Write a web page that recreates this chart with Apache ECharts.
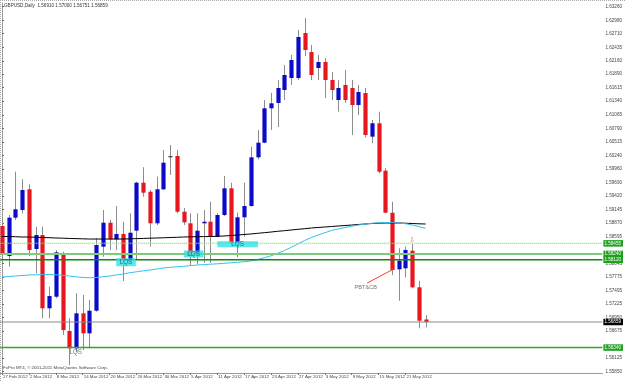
<!DOCTYPE html>
<html><head><meta charset="utf-8">
<script src="https://cdn.jsdelivr.net/npm/echarts@6/dist/echarts.min.js"></script>
<style>html,body{margin:0;padding:0;background:#fff}#c{width:625px;height:381px}</style>
</head><body><div id="c"></div>
<script>
// ---- data (GBPUSD Daily, 27 Feb 2012 .. 24 May 2012) ----
const opens = [1.58807,1.58198,1.58976,1.59132,1.59552,1.58340,1.58624,1.57137,1.57372,1.58233,
1.56676,1.56325,1.57035,1.56629,1.57088,1.58387,1.58874,1.58537,1.58645,1.58117,
1.58712,1.59686,1.59503,1.58862,1.59552,1.60223,1.60228,1.59097,1.58862,1.58265,
1.58862,1.58894,1.58590,1.59030,1.59572,1.58468,1.58984,1.59213,1.60201,1.60498,
1.61196,1.61304,1.61567,1.61811,1.61811,1.62724,1.62339,1.62014,1.62136,1.61770,
1.61364,1.61669,1.61608,1.61263,1.61507,1.60620,1.60892,1.59930,1.59077,1.57928,
1.57949,1.58306,1.57563,1.56910];
const highs = [1.58990,1.59030,1.59909,1.59755,1.59653,1.58793,1.58793,1.57575,1.58320,1.58286,
1.56934,1.57441,1.57407,1.57305,1.58558,1.59132,1.58929,1.59213,1.58894,1.59065,
1.59706,1.59999,1.59538,1.59808,1.60350,1.60451,1.60350,1.59172,1.59065,1.59065,
1.59132,1.59300,1.59065,1.59822,1.59686,1.59077,1.59686,1.60417,1.60756,1.61364,
1.61507,1.61770,1.62075,1.62278,1.62785,1.63029,1.62481,1.62278,1.62217,1.61933,
1.61770,1.61973,1.61770,1.61669,1.61608,1.60959,1.61127,1.59978,1.59300,1.58355,
1.58387,1.58442,1.57697,1.57000];
const lows = [1.58117,1.57981,1.58929,1.59065,1.58198,1.57847,1.56934,1.56934,1.57340,1.56595,
1.55986,1.56250,1.56290,1.56325,1.57068,1.58184,1.58320,1.58320,1.57691,1.58083,
1.58117,1.59402,1.58387,1.58827,1.59538,1.59842,1.59065,1.58827,1.58016,1.58036,
1.58062,1.58062,1.58578,1.59010,1.58442,1.58172,1.58590,1.59199,1.60161,1.60486,
1.60756,1.60816,1.61364,1.61669,1.61770,1.62257,1.61770,1.61770,1.61405,1.61364,
1.61127,1.61304,1.60654,1.61060,1.60607,1.60486,1.59877,1.59065,1.57813,1.57291,
1.57766,1.57543,1.56731,1.56751];
const closes = [1.58219,1.58976,1.59146,1.59538,1.58320,1.58624,1.57137,1.57386,1.58273,1.56696,
1.56325,1.57035,1.56629,1.57088,1.58422,1.58874,1.58537,1.58645,1.58117,1.58671,
1.59686,1.59483,1.58862,1.59552,1.60092,1.60223,1.59097,1.58882,1.58198,1.58712,
1.58894,1.58590,1.59030,1.59572,1.58456,1.58984,1.59213,1.60201,1.60498,1.61196,
1.61297,1.61608,1.61872,1.62176,1.62643,1.62379,1.61872,1.62136,1.61770,1.61567,
1.61608,1.61364,1.61263,1.61527,1.60654,1.60892,1.59909,1.59077,1.57914,1.58103,
1.58320,1.57563,1.56885,1.56859];
const maSlow = [1.58594,1.58594,1.58590,1.58584,1.58584,1.58578,1.58574,1.58570,1.58564,1.58560,
1.58555,1.58551,1.58547,1.58543,1.58543,1.58543,1.58543,1.58543,1.58543,1.58547,
1.58551,1.58555,1.58560,1.58564,1.58568,1.58574,1.58578,1.58584,1.58588,1.58590,
1.58592,1.58594,1.58598,1.58604,1.58614,1.58624,1.58635,1.58645,1.58659,1.58671,
1.58685,1.58700,1.58712,1.58726,1.58740,1.58752,1.58767,1.58777,1.58787,1.58797,
1.58807,1.58817,1.58827,1.58838,1.58848,1.58858,1.58864,1.58868,1.58868,1.58868,
1.58864,1.58858,1.58852,1.58848];
const maFast = [1.57772,1.57782,1.57792,1.57803,1.57813,1.57817,1.57821,1.57823,1.57817,1.57807,
1.57792,1.57776,1.57764,1.57758,1.57762,1.57776,1.57792,1.57813,1.57833,1.57859,
1.57878,1.57898,1.57914,1.57934,1.57955,1.57969,1.57979,1.57991,1.58003,1.58016,
1.58024,1.58032,1.58040,1.58050,1.58060,1.58070,1.58083,1.58097,1.58127,1.58162,
1.58202,1.58253,1.58310,1.58375,1.58442,1.58513,1.58574,1.58624,1.58671,1.58716,
1.58746,1.58777,1.58803,1.58827,1.58848,1.58862,1.58872,1.58878,1.58876,1.58868,
1.58854,1.58827,1.58795,1.58760];
const dateTickIdx = [0,4,8,12,16,20,24,28,32,36,40,44,48,52,56,60];
const dateTickLabels = ["27 Feb 2012","2 Mar 2012","8 Mar 2012","14 Mar 2012","20 Mar 2012","26 Mar 2012",
"30 Mar 2012","5 Apr 2012","11 Apr 2012","17 Apr 2012","23 Apr 2012","27 Apr 2012","3 May 2012",
"9 May 2012","15 May 2012","21 May 2012"];
const priceTicks = [1.63260,1.62980,1.62710,1.62435,1.62160,1.61890,1.61615,1.61340,1.61065,1.60790,
1.60515,1.60240,1.59960,1.59690,1.59420,1.59145,1.58870,1.58595,1.58045,1.57775,1.57495,1.57225,
1.56950,1.56675,1.56125,1.55850];
const levels = [1.58455,1.58240,1.58120,1.56340];
const bidPrice = 1.56859;
const headerText = "GBPUSD,Daily  1.56910 1.57000 1.56751 1.56859";
const footerText = "FxPro MT4, \u00a9 2001-2011 MetaQuotes Software Corp.";
// annotations: [bar index, price, text]
const lqsNotes = [[18.44,1.58072,"LQS"],[28.5,1.58239,"LQS"],[35.04,1.58438,"LQS"],[10.96,1.56240,"LQS"]];
const pbtNote = [54.1,1.57569,"PBT&CB"];
const pbtLink = [[54.3,1.57650],[58.1,1.57924]];
const arrowNote = [61,1.58523,"\u21e9"];

// ---- chart ----
const FONT = 'Liberation Sans';
const X_MIN = -0.25, X_MAX = 89.28;
const chart = echarts.init(document.getElementById('c'));
const candleData = opens.map((o,i)=>[i,o,closes[i],lows[i],highs[i]]);
const levelStyles = [
  {color:'#8fd88f',width:1.5,type:[1,1],bg:'#1fa11f',fg:'#fff'},
  {color:'#7ccc7c',width:2,type:'solid',bg:'#1fa11f',fg:'#fff'},
  {color:'#0a8a0a',width:1.5,type:'solid',bg:'#1fa11f',fg:'#fff'},
  {color:'#2fa52f',width:1.5,type:'solid',bg:'#1fa11f',fg:'#fff'},
  {color:'#8a8a8a',width:1,type:'solid',bg:'#000',fg:'#fff'}
];
const allLevels = levels.concat([bidPrice]);
const levelSeries = allLevels.map((v,k)=>({
  type:'line',z:4,silent:true,symbol:'none',showSymbol:false,
  data:[[X_MIN,v],[X_MAX,v]],
  lineStyle:{color:levelStyles[k].color,width:levelStyles[k].width,type:levelStyles[k].type},
  endLabel:{show:true,distance:1,formatter:v.toFixed(5),backgroundColor:levelStyles[k].bg,
    color:levelStyles[k].fg,fontSize:4.6,fontFamily:FONT,padding:[1,2,0.5,1]}
}));

const cyanPad = [[1,3.5],[0.5,3.5],[0,14],[0,0]];
const lqsData = lqsNotes.map((n,k)=>({value:[n[0],n[1]],label:{show:true,position:'inside',formatter:n[2],
  fontSize:6.3,fontFamily:FONT,color:k<3?'#2a4a6a':'#555',lineHeight:6,
  backgroundColor:k<3?'#2fe3e3':'transparent',padding:cyanPad[k]}}));

const option = {
  animation:false,
  backgroundColor:'#ffffff',
  grid:{left:0,right:18,top:3,bottom:8},
  xAxis:{type:'value',min:X_MIN,max:X_MAX,
    axisLine:{show:true,lineStyle:{color:'#9a9a9a',width:1}},
    axisTick:{show:true,customValues:dateTickIdx,length:2,lineStyle:{color:'#777'}},
    axisLabel:{show:true,customValues:dateTickIdx,
      formatter:v=>{const k=dateTickIdx.indexOf(Math.round(v));return k>=0?dateTickLabels[k]:'';},
      align:'left',fontSize:4.4,color:'#444',margin:2,fontFamily:FONT,padding:[0,0,0,1]},
    splitLine:{show:false}},
  yAxis:{type:'value',position:'right',min:1.55824,max:1.63333,
    axisLine:{show:true,lineStyle:{color:'#9a9a9a',width:1}},
    axisTick:{show:true,customValues:priceTicks,length:2,lineStyle:{color:'#666'}},
    axisLabel:{show:true,customValues:priceTicks,formatter:v=>v.toFixed(5),fontSize:4.6,color:'#444',
      margin:3,fontFamily:FONT},
    splitLine:{show:false}},
  series:[
    {type:'custom',z:2,clip:true,data:candleData,
     renderItem:function(params,api){
       const x=api.value(0),o=api.value(1),c=api.value(2),l=api.value(3),h=api.value(4);
       const pO=api.coord([x,o]),pC=api.coord([x,c]),pL=api.coord([x,l]),pH=api.coord([x,h]);
       const bw=api.size([1,0])[0]*0.62;
       const cx=Math.round(pO[0])+0.5;
       const top=Math.min(pO[1],pC[1]),bh=Math.max(Math.abs(pO[1]-pC[1]),1);
       const col = c>o?'#0a0ac8':(c<o?'#e8161e':'#222');
       return {type:'group',children:[
         {type:'line',shape:{x1:cx,y1:pH[1],x2:cx,y2:pL[1]},style:{stroke:'#8c8c8c',lineWidth:1}},
         {type:'rect',shape:{x:cx-bw/2,y:top,width:bw,height:bh},style:{fill:col}}
       ]};
     }},
    {type:'line',z:3,data:maSlow.map((v,i)=>[i,v]),showSymbol:false,symbol:'none',
     lineStyle:{color:'#000',width:1}},
    {type:'line',z:3,data:maFast.map((v,i)=>[i,v]),showSymbol:false,symbol:'none',
     lineStyle:{color:'#33c2f2',width:1}}
  ].concat(levelSeries).concat([
    {type:'line',z:5,data:pbtLink,showSymbol:false,symbol:'none',lineStyle:{color:'#ff3a3a',width:1}},
    {type:'scatter',z:6,symbol:'rect',symbolSize:0,data:lqsData},
    {type:'scatter',z:6,symbol:'rect',symbolSize:0,
     data:[{value:[pbtNote[0],pbtNote[1]],label:{show:true,position:'inside',formatter:pbtNote[2],
       fontSize:5.6,fontFamily:FONT,color:'#555'}},
       {value:[arrowNote[0],arrowNote[1]],label:{show:true,position:'inside',formatter:arrowNote[2],
       fontSize:7,fontFamily:'DejaVu Sans',color:'#ff4040'}}]}
  ]),
  graphic:[
    {type:'text',left:4,top:3,style:{text:headerText,fontSize:4.6,fontFamily:FONT,fill:'#333'}},
    {type:'text',left:3,top:366,style:{text:footerText,fontSize:4.4,fontFamily:FONT,fill:'#444'}},
    {type:'line',shape:{x1:0,y1:0.5,x2:625,y2:0.5},style:{stroke:'#aaa',lineDash:[1,1],lineWidth:1}},
    {type:'line',shape:{x1:0.5,y1:0,x2:0.5,y2:381},style:{stroke:'#aaa',lineDash:[1,1],lineWidth:1}}
  ]
};
chart.setOption(option);
</script>
</body></html>
